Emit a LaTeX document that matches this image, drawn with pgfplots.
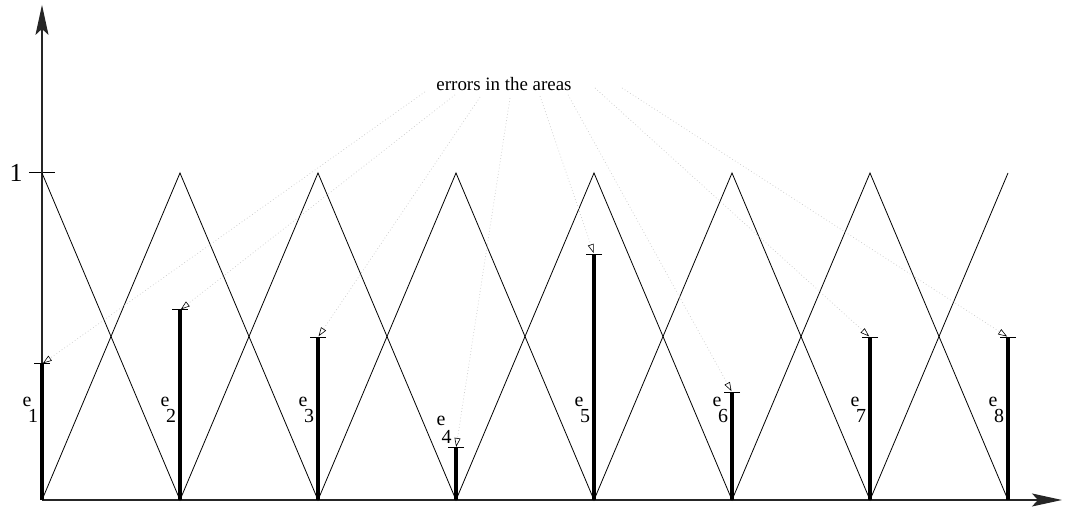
\documentclass[border=0pt]{standalone}
\usepackage{fontspec}
\setmainfont{Liberation Serif}
\usepackage{pgfplots}
\pgfplotsset{compat=1.18}
\usetikzlibrary{arrows.meta}

% heights of the error bars at the nodes 0..7
\pgfplotstableread{
x e
0 0.416
1 0.581
2 0.498
3 0.159
4 0.752
5 0.330
6 0.498
7 0.498
}\errtable

\begin{document}
\begin{tikzpicture}
\begin{axis}[
  x=138bp, y=327bp,
  axis lines=middle,
  xmin=0, xmax=7.391, ymin=0, ymax=1.514,
  enlargelimits=false,
  clip=false,
  axis line style={line width=1.2bp, black!85, -{Stealth[length=30bp, width=13bp, inset=6bp]}},
  xtick=\empty,
  ytick={1}, yticklabels={1},
  major tick length=26bp,
  tick align=center,
  tick style={line width=1bp, black},
  /pgf/number format/assume math mode=true,
  yticklabel style={font=\fontsize{26}{28}\selectfont, xshift=-3bp},
  every axis plot/.append style={line join=miter},
]
% page extent
\path (axis cs:-0.3043,-0.0336) rectangle (axis cs:7.4855,1.529);

% hat functions
\addplot[black, line width=0.8bp] coordinates {(0,1) (1,0) (2,1) (3,0) (4,1) (5,0) (6,1) (7,0)};
\addplot[black, line width=0.8bp] coordinates {(0,0) (1,1) (2,0) (3,1) (4,0) (5,1) (6,0) (7,1)};

% error bars
\addplot[ycomb, black, line width=3.2bp, mark=-, mark size=8bp,
         mark options={line width=1bp}] table[x=x, y=e] {\errtable};

% dotted pointers from the caption to the bar tops
\tikzset{pointer/.style={gray!40, line width=0.7bp, dash pattern=on 0.8bp off 2.4bp,
  -{Triangle[open, length=9bp, width=6bp, color=black, line width=0.6bp]}, shorten >=1bp}}
\addplot[pointer] coordinates {(2.775,1.248) (0,0.416)};
\addplot[pointer] coordinates {(2.993,1.239) (1,0.581)};
\addplot[pointer] coordinates {(3.174,1.232) (2,0.498)};
\addplot[pointer] coordinates {(3.391,1.229) (3,0.159)};
\addplot[pointer] coordinates {(3.609,1.235) (4,0.752)};
\addplot[pointer] coordinates {(3.812,1.239) (5,0.330)};
\addplot[pointer] coordinates {(4.007,1.260) (6,0.498)};
\addplot[pointer] coordinates {(4.203,1.260) (7,0.498)};

\node[font=\fontsize{19}{21}\selectfont, inner sep=0pt] at (axis cs:3.348,1.271) {errors in the areas};

% bar names
\foreach \i/\xx in {1/0,2/1,3/2,5/4,6/5,7/6,8/7}{
  \edef\tmp{\noexpand\node[font=\noexpand\fontsize{20}{22}\noexpand\selectfont, inner sep=0pt]
    at (axis cs:\xx-0.109,0.300) {e};
  \noexpand\node[font=\noexpand\fontsize{20}{22}\noexpand\selectfont, inner sep=0pt]
    at (axis cs:\xx-0.065,0.257) {\i};}
  \tmp
}
\node[font=\fontsize{20}{22}\selectfont, inner sep=0pt] at (axis cs:2.891,0.242) {e};
\node[font=\fontsize{20}{22}\selectfont, inner sep=0pt] at (axis cs:2.932,0.193) {4};
\end{axis}
\end{tikzpicture}
\end{document}
